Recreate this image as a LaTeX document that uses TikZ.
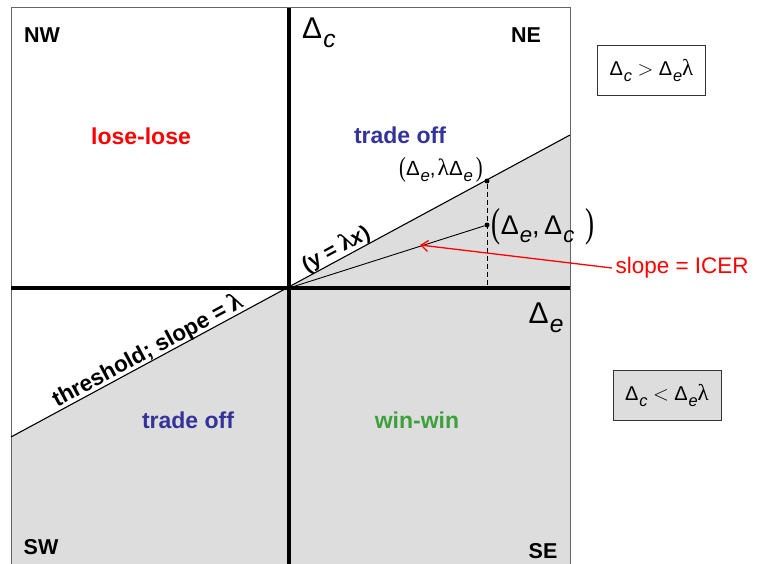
\documentclass[tikz,border=0pt]{standalone}
\usepackage{fontspec}
\setmainfont{Liberation Sans}
\newfontfamily\serifl{Liberation Serif}
\usetikzlibrary{arrows.meta}
\definecolor{tblue}{RGB}{51,51,153}
\definecolor{tgreen}{RGB}{60,160,60}
\definecolor{tgray}{RGB}{221,221,221}
\definecolor{frame}{RGB}{100,100,100}
\newcommand\lam{{\serifl\scalebox{1.15}{λ}}}
\newcommand\Dsub[1]{Δ\kern0.04em\raisebox{-0.3em}{\scalebox{0.82}{\itshape #1}}}
\newcommand\tparen[3]{\raisebox{#2}{\serifl\scalebox{1}[#1]{#3}}}
\begin{document}
\begin{tikzpicture}[x=1pt,y=-1pt,
  quad/.style={font=\fontsize{21.5}{25}\selectfont\bfseries},
  region/.style={font=\fontsize{23}{27}\selectfont\bfseries},
  axislab/.style={font=\fontsize{30}{34}\selectfont},
  condbox/.style={draw=black!80,line width=0.8pt,minimum width=108pt,minimum height=50pt,font=\fontsize{20}{24}\selectfont},
  dot/.style={circle,fill=black,inner sep=0pt,minimum size=5pt}]
\useasboundingbox (0,0) rectangle (760,564);
% shading
\fill[tgray] (11,437) -- (570,135) -- (570,570) -- (11,570) -- cycle;
% frame
\draw[frame,line width=1pt] (11,8) rectangle (570,580);
% threshold
\coordinate (TL) at (11,437);
\coordinate (TR) at (570,135);
\draw[line width=1.1pt] (TL) -- (TR);
% axes
\coordinate (O) at (289,288);
\coordinate (Vt) at (289,8);
\coordinate (Vb) at (289,570);
\coordinate (Hl) at (11,288);
\coordinate (Hr) at (570,288);
\draw[line width=3.2pt] (Vt) -- (Vb);
\draw[line width=3.2pt] (Hl) -- (Hr);
% points
\node[dot] (P) at (487,225) {};
\node[dot] (Q) at (487,181) {};
\coordinate (Qx) at (487,288);
\draw[line width=0.9pt] (O) -- (P);
\draw[dash pattern=on 5pt off 3pt,line width=0.9pt] (Q) -- (Qx);
% labels quadrants
\node[quad] (nw) at (42,35) {NW};
\node[quad] (ne) at (526,35) {NE};
\node[quad] (sw) at (41,547) {SW};
\node[quad] (se) at (543,551) {SE};
\node[region,red] (ll) at (141,136) {lose-lose};
\node[region,tblue] (to1) at (400,135) {trade off};
\node[region,tblue] (to2) at (188,420) {trade off};
\node[region,tgreen] (ww) at (417,420) {win-win};
\node[axislab] (dc) at (319,33) {\Dsub{c}};
\node[axislab] (de) at (546,318) {\Dsub{e}};
% point labels
\node[font=\fontsize{20.5}{24}\selectfont] (ql) at (441,170) {\tparen{1.35}{-0.06em}{(}\Dsub{e},\kern0.1em\lam\Dsub{e}\kern0.15em\tparen{1.35}{-0.06em}{)}};
\node[font=\fontsize{27}{32}\selectfont] (pl) at (543,227) {\tparen{1.5}{-0.1em}{(}\Dsub{e},\,\Dsub{c}\hspace{0.4em}\tparen{1.5}{-0.1em}{)}};
% rotated labels
\node[rotate=28.4,font=\fontsize{21}{25}\selectfont] (yl) at (336,249) {\bfseries (y = \lam{}\textit{x})};
\node[rotate=28.3,font=\fontsize{22.5}{26}\selectfont] (thl) at (148,351) {\bfseries threshold; slope = \lam};
% ICER
\node[red,font=\fontsize{22.5}{26}\selectfont,anchor=west] (icer) at (612,268) {slope = ICER};
\coordinate (ah) at (420,245);
\draw[red,line width=1.3pt,-{Straight Barb[length=7pt,width=11pt]}] (icer.west) -- (ah);
% condition boxes
\node[condbox,fill=white] (c1) at (651.5,70.5) {\Dsub{c} $>$ \Dsub{e}\lam};
\node[condbox,fill=tgray] (c2) at (667,395) {\Dsub{c} $<$ \Dsub{e}\lam};
\end{tikzpicture}
\end{document}
